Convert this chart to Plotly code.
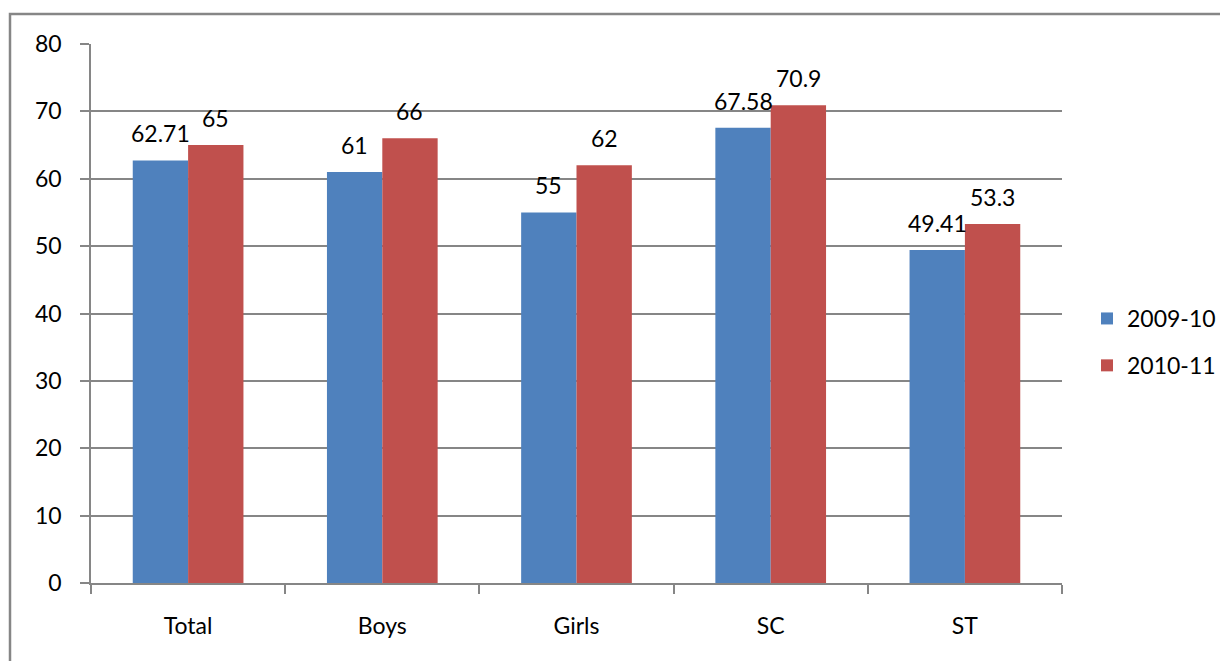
import plotly.graph_objects as go

categories = ["Total", "Boys", "Girls", "SC", "ST"]
series_2009 = [62.71, 61, 55, 67.58, 49.41]
series_2010 = [65, 66, 62, 70.9, 53.3]
series_names = ["2009-10", "2010-11"]
y_ticks = [0, 10, 20, 30, 40, 50, 60, 70, 80]

OFF = 8  # page body margin
W, H = 1228 - OFF, 661 - OFF
L, R, T, B = 91 - OFF, 1062 - OFF, 44 - OFF, 583 - OFF
pw, ph = R - L, B - T

FONT = "Lato, Carlito, Calibri, sans-serif"
FS = 23
GRID = "#868686"
BARGAP = 0.43
colors = ["#4F81BD", "#C0504D"]

fig = go.Figure()
for name, vals, col, grp in [(series_names[0], series_2009, colors[0], "a"),
                             (series_names[1], series_2010, colors[1], "b")]:
    fig.add_trace(go.Bar(
        x=categories, y=vals, name=name, legendgroup=grp,
        marker=dict(color=col, line=dict(width=0)),
    ))

# value labels above bars
bar_px = pw / len(categories) * (1 - BARGAP) / 2
annotations = []
for k, vals in enumerate([series_2009, series_2010]):
    shift = (k - 0.5) * bar_px
    for c, v in zip(categories, vals):
        annotations.append(dict(
            x=c, y=v, xref="x", yref="y", text=f"{v:g}", showarrow=False,
            xshift=shift, yshift=27, yanchor="middle", xanchor="center",
            font=dict(size=FS, color="black", family=FONT),
        ))

fig.update_layout(
    width=W, height=H,
    margin=dict(l=L, r=W - R, t=T, b=H - B, pad=0, autoexpand=False),
    paper_bgcolor="white", plot_bgcolor="white",
    barmode="group", bargap=BARGAP, bargroupgap=0,
    font=dict(family=FONT, size=FS, color="black"),
    showlegend=True,
    annotations=annotations,
    legend=dict(
        x=(1087 - OFF - L) / pw, xanchor="left",
        y=(B - (342 - OFF)) / ph, yanchor="middle",
        font=dict(size=FS, family=FONT),
        tracegroupgap=14, bgcolor="rgba(0,0,0,0)",
    ),
    xaxis=dict(
        type="category", range=[-0.5, 4.5],
        showline=True, linecolor=GRID, linewidth=1.5,
        ticks="outside", tickson="boundaries", ticklen=9, tickcolor=GRID, tickwidth=1.5,
        tickfont=dict(size=FS, family=FONT), showgrid=False,
        ticklabelstandoff=22,
    ),
    yaxis=dict(
        range=[0, 80], tickvals=y_ticks,
        showgrid=True, gridcolor=GRID, gridwidth=1.5,
        showline=True, linecolor=GRID, linewidth=1.5,
        ticks="outside", ticklen=9, tickcolor=GRID, tickwidth=1.5,
        tickfont=dict(size=FS, family=FONT), zeroline=False,
        ticklabelstandoff=14,
    ),
    shapes=[dict(
        type="rect", xref="paper", yref="paper",
        x0=(10 - OFF - L) / pw, x1=(W + 30 - L) / pw,
        y0=(B - (H + 30)) / ph, y1=(B - (14 - OFF)) / ph,
        line=dict(color=GRID, width=2.5), fillcolor="rgba(0,0,0,0)", layer="below",
    )],
)

fig.write_html("out.html")
